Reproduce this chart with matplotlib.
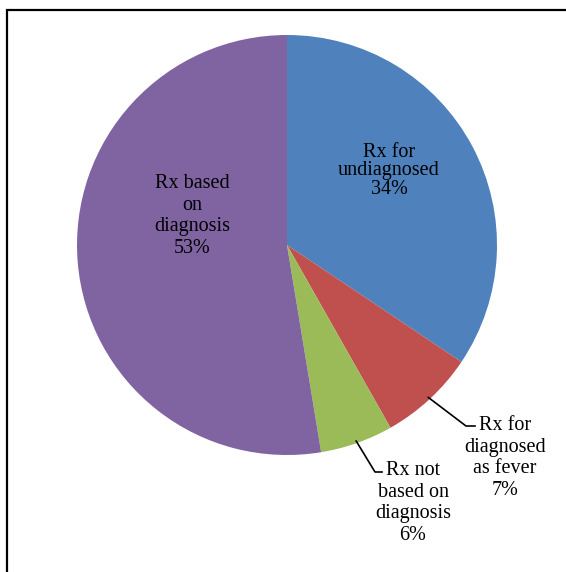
import numpy as np
import matplotlib
matplotlib.use("Agg")
import matplotlib.pyplot as plt
from matplotlib.patches import Rectangle

categories = ["Rx for\nundiagnosed", "Rx for\ndiagnosed\nas fever", "Rx not\nbased on\ndiagnosis", "Rx based\non\ndiagnosis"]
values = [34.4, 7.4, 5.6, 52.6]
percent_labels = ["34%", "7%", "6%", "53%"]
colors = ["#4F81BD", "#C0504D", "#9BBB59", "#8064A2"]

W, H = 566, 572
fig = plt.figure(figsize=(W / 100, H / 100), dpi=100)
ax = fig.add_axes([0, 0, 1, 1])

cx, cy, R = 287, H - 245, 210
wedges, _ = ax.pie(values, colors=colors, startangle=90, counterclock=False,
                   center=(cx, cy), radius=R, frame=True,
                   wedgeprops=dict(linewidth=0))
ax.set_xlim(0, W)
ax.set_ylim(0, H)
ax.set_aspect("equal")
ax.axis("off")

font = dict(family=["Liberation Serif", "DejaVu Serif"], fontsize=14.5,
            ha="center", va="center", color="black")
labels = [f"{c}\n{p}" for c, p in zip(categories, percent_labels)]

# inside labels
ax.text(389, H - 171, labels[0], linespacing=0.97, **font)
ax.text(192, H - 216, labels[3], linespacing=1.2, **font)

# outside labels with leader lines
def mid_point(w, r):
    a = np.deg2rad((w.theta1 + w.theta2) / 2)
    return cx + r * np.cos(a), cy + r * np.sin(a)

x0, y0 = mid_point(wedges[1], R * 0.99)
ax.plot([x0, 466, 475], [y0, H - 426, H - 426], color="black", lw=1.2)
ax.text(505, H - 458, labels[1], linespacing=1.2, **font)

x1, y1 = mid_point(wedges[2], R * 0.99)
ax.plot([x1, 375, 382], [y1, H - 472, H - 472], color="black", lw=1.2)
ax.text(413, H - 503, labels[2], linespacing=1.2, **font)

ax.add_patch(Rectangle((7, -20), 600, H - 10 + 20, fill=False,
                       edgecolor="black", lw=1.6, clip_on=False))

fig.savefig("out.png", dpi=100)
